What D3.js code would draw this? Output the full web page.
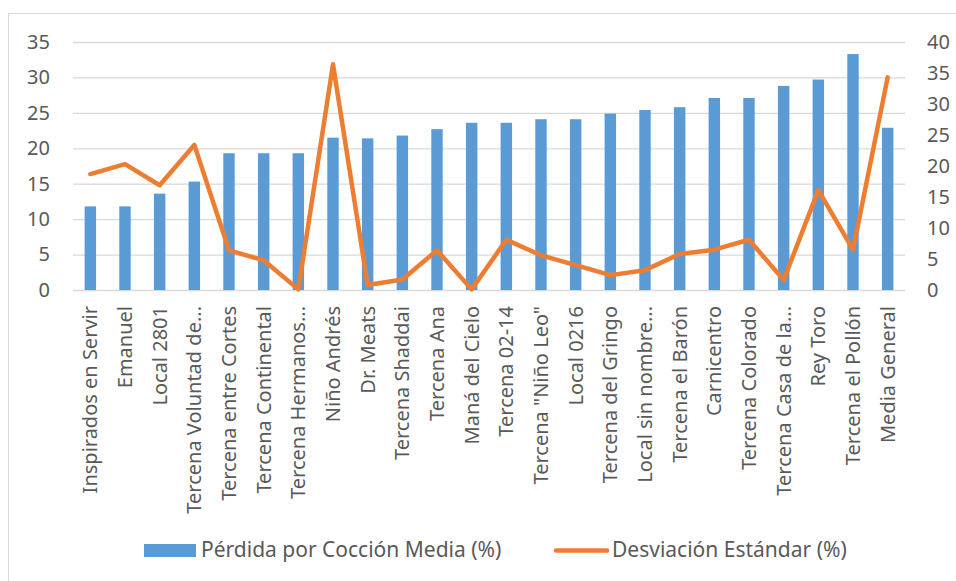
<!DOCTYPE html>
<html>
<head>
<meta charset="utf-8">
<script src="https://cdn.jsdelivr.net/npm/d3@7"></script>
<style>
  html, body { margin: 0; padding: 0; background: #fff; }
  svg { display: block; font-family: "Noto Sans", sans-serif; }
</style>
</head>
<body>
<div id="chart"></div>
<script>
// categories (x axis)
const categories = [
  'Inspirados en Servir', 'Emanuel', 'Local 2801', 'Tercena Voluntad de...',
  'Tercena entre Cortes', 'Tercena Continental', 'Tercena Hermanos...', 'Niño Andrés',
  'Dr. Meats', 'Tercena Shaddai', 'Tercena Ana', 'Maná del Cielo',
  'Tercena 02-14', 'Tercena "Niño Leo"', 'Local 0216', 'Tercena del Gringo',
  'Local sin nombre...', 'Tercena el Barón', 'Carnicentro', 'Tercena Colorado',
  'Tercena Casa de la...', 'Rey Toro', 'Tercena el Pollón', 'Media General'
]

// bars, left axis
const perdida = [
  11.8, 11.8, 13.6, 15.3, 19.3, 19.3, 19.3, 21.5,
  21.4, 21.8, 22.7, 23.6, 23.6, 24.1, 24.1, 24.9,
  25.4, 25.8, 27.1, 27.1, 28.8, 29.7, 33.3, 22.9
]

// line, right axis
const desviacion = [
  18.7, 20.3, 16.9, 23.4, 6.4, 4.8, 0.1, 36.4,
  0.8, 1.7, 6.4, 0.1, 8.1, 5.6, 4.0, 2.4,
  3.2, 5.8, 6.5, 8.1, 1.6, 16.1, 6.5, 34.3
]

const leftTicks = [0, 5, 10, 15, 20, 25, 30, 35]
const rightTicks = [0, 5, 10, 15, 20, 25, 30, 35, 40]

const seriesNames = ['Pérdida por Cocción Media (%)', 'Desviación Estándar (%)']

const width = 956, height = 581
const marginTop = 42, marginBottom = 291, marginLeft = 73, marginRight = 905
const barColor = '#5B9BD5', lineColor = '#ED7D31', textColor = '#595959', gridColor = '#D9D9D9'
const fontSize = 20

const svg = d3.select('#chart').append('svg')
  .attr('width', width)
  .attr('height', height)
  .attr('viewBox', [0, 0, width, height])

// chart frame
svg.append('rect')
  .attr('x', 8.5).attr('y', 13.5)
  .attr('width', 980).attr('height', 620)
  .attr('fill', 'none')
  .attr('stroke', gridColor)

const x = d3.scaleBand()
  .domain(categories)
  .range([marginLeft, marginRight])
  .padding(0)

const yLeft = d3.scaleLinear()
  .domain([0, 35])
  .range([marginBottom - 1, marginTop])

const yRight = d3.scaleLinear()
  .domain([0, 40])
  .range([marginBottom - 1, marginTop])

// gridlines (left axis)
svg.append('g')
  .attr('transform', `translate(${marginLeft},0)`)
  .call(d3.axisLeft(yLeft).tickValues(leftTicks).tickSize(-(marginRight - marginLeft)).tickFormat(''))
  .call(g => g.select('.domain').remove())
  .call(g => g.selectAll('.tick line').attr('stroke', gridColor).attr('stroke-width', 1.3))

// left labels
svg.append('g')
  .attr('transform', `translate(${marginLeft},0)`)
  .attr('font-family', null)
  .attr('font-size', fontSize)
  .call(d3.axisLeft(yLeft).tickValues(leftTicks).tickSize(0).tickPadding(23))
  .call(g => g.attr('font-family', null).attr('font-size', fontSize))
  .call(g => g.select('.domain').remove())
  .call(g => g.selectAll('text').attr('fill', textColor))

// right labels
svg.append('g')
  .attr('transform', `translate(${marginRight},0)`)
  .call(d3.axisRight(yRight).tickValues(rightTicks).tickSize(0).tickPadding(22))
  .call(g => g.attr('font-family', null).attr('font-size', fontSize))
  .call(g => g.select('.domain').remove())
  .call(g => g.selectAll('text').attr('fill', textColor))

// bars
const barW = x.bandwidth() * 0.33
svg.append('g')
  .attr('fill', barColor)
  .selectAll('rect')
  .data(perdida)
  .join('rect')
    .attr('x', (d, i) => x(categories[i]) + (x.bandwidth() - barW) / 2)
    .attr('y', d => yLeft(d))
    .attr('width', barW)
    .attr('height', d => yLeft(0) - yLeft(d))

// x axis labels
svg.append('g')
  .attr('transform', `translate(0,${marginBottom})`)
  .call(d3.axisBottom(x).tickSize(0).tickPadding(0))
  .call(g => g.attr('font-family', null).attr('font-size', fontSize))
  .call(g => g.select('.domain').remove())
  .call(g => g.selectAll('text')
    .attr('fill', textColor)
    .attr('text-anchor', 'end')
    .attr('transform', 'rotate(-90)')
    .attr('x', -15)
    .attr('y', 0)
    .attr('dy', '0.35em'))

// line
const line = d3.line()
  .x((d, i) => x(categories[i]) + x.bandwidth() / 2)
  .y(d => yRight(d))

svg.append('path')
  .datum(desviacion)
  .attr('fill', 'none')
  .attr('stroke', lineColor)
  .attr('stroke-width', 4.5)
  .attr('stroke-linejoin', 'round')
  .attr('stroke-linecap', 'round')
  .attr('d', line)

// legend
const legend = svg.append('g').attr('font-size', 21).attr('fill', textColor)
legend.append('rect')
  .attr('x', 144).attr('y', 544).attr('width', 52).attr('height', 13)
  .attr('fill', barColor)
legend.append('text')
  .attr('x', 201).attr('y', 550).attr('dy', '0.35em')
  .text(seriesNames[0])
legend.append('line')
  .attr('x1', 556).attr('x2', 607).attr('y1', 550.5).attr('y2', 550.5)
  .attr('stroke', lineColor).attr('stroke-width', 4.5).attr('stroke-linecap', 'round')
legend.append('text')
  .attr('x', 612).attr('y', 550).attr('dy', '0.35em')
  .text(seriesNames[1])
</script>
</body>
</html>
